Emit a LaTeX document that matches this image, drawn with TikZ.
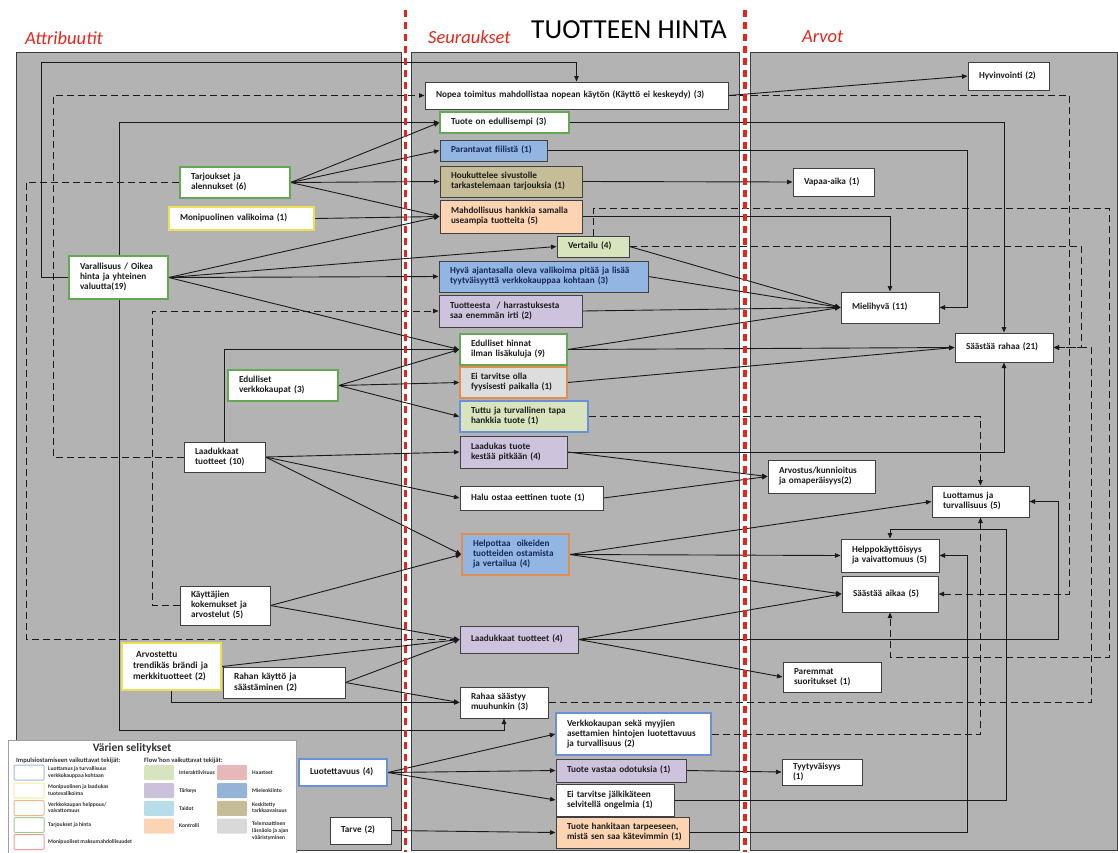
\documentclass[tikz,border=0pt]{standalone}
\usepackage{fontspec}
\setmainfont{Carlito}
\usetikzlibrary{arrows.meta,shadows}
\pgfdeclarelayer{panels}
\pgfdeclarelayer{links}
\pgfdeclarelayer{top}
\pgfsetlayers{panels,links,main,top}

\definecolor{panelgray}{HTML}{B3B3B3}
\definecolor{paneledge}{HTML}{3C3C3C}
\definecolor{boxedge}{HTML}{404040}
\definecolor{linec}{HTML}{1A1A1A}
\definecolor{redline}{HTML}{E6261D}
\definecolor{greenedge}{HTML}{62A855}
\definecolor{blueedge}{HTML}{6A90DA}
\definecolor{yellowedge}{HTML}{ECDE55}
\definecolor{orangeedge}{HTML}{E08E4E}
\definecolor{bluefill}{HTML}{92B5E2}
\definecolor{navytext}{HTML}{16275C}
\definecolor{khakifill}{HTML}{C5BD97}
\definecolor{peachfill}{HTML}{FCD4B2}
\definecolor{greenfill}{HTML}{D7E4BD}
\definecolor{lavfill}{HTML}{CDC3DC}
\definecolor{grayfill}{HTML}{DDDDDD}
\definecolor{boxtext}{HTML}{1C1C1C}
\definecolor{legedge}{HTML}{A0A0A0}
\definecolor{legtext}{HTML}{333333}
\definecolor{lgblue}{HTML}{9DB7E5}
\definecolor{lgyellow}{HTML}{F4EC98}
\definecolor{lgorange}{HTML}{F2B58C}
\definecolor{lggreen}{HTML}{9FCB8E}
\definecolor{lgred}{HTML}{EE9C9C}
\definecolor{lfgreen}{HTML}{D7E4BD}
\definecolor{lflav}{HTML}{CCC1DA}
\definecolor{lfcyan}{HTML}{B7DEE8}
\definecolor{lfpeach}{HTML}{FBD4B4}
\definecolor{lfpink}{HTML}{E6B9B8}
\definecolor{lfblue}{HTML}{95B3D7}
\definecolor{lfkhaki}{HTML}{C4BD97}
\definecolor{lfgray}{HTML}{D9D9D9}

\newcommand\boxfont{\bfseries\fontsize{9.2}{10}\selectfont}
\newcommand\bigboxfont{\bfseries\fontsize{9.4}{11}\selectfont}
\newcommand\txtlines[1]{\begin{tabular}{@{}l@{}}#1\end{tabular}}

\tikzset{
  panel/.style={fill=panelgray, draw=paneledge, line width=0.9pt},
  bx/.style={draw=boxedge, line width=1pt, fill=white, inner xsep=11pt, inner ysep=0pt,
    align=left, font=\boxfont, text=boxtext,
    drop shadow={shadow xshift=1.3pt, shadow yshift=-1.3pt, opacity=0.3}},
  gbx/.style={bx, draw=greenedge, line width=1.4pt},
  bbx/.style={bx, draw=blueedge, line width=1.4pt},
  ybx/.style={bx, draw=yellowedge, line width=1.4pt},
  obx/.style={bx, draw=orangeedge, line width=1.4pt},
  fblue/.style={fill=bluefill, text=navytext},
  fkhaki/.style={fill=khakifill},
  fpeach/.style={fill=peachfill},
  fgreen/.style={fill=greenfill},
  flav/.style={fill=lavfill},
  fgray/.style={fill=grayfill},
  conn/.style={draw=linec, line width=0.9pt, ->},
  dconn/.style={conn, dash pattern=on 7pt off 4pt},
  reddash/.style={draw=redline, line width=3.6pt, dash pattern=on 7pt off 5pt},
  coltitle/.style={anchor=base west, inner sep=0pt, text=redline, font=\itshape\fontsize{18.5}{20}\selectfont},
  swatch/.style={minimum width=30pt, minimum height=15pt, inner sep=0pt, line width=1pt, rounded corners=1pt},
  leglab/.style={anchor=west, inner sep=0pt, align=left, text=legtext, font=\bfseries\fontsize{5.6}{6.6}\selectfont},
}

\begin{document}
\begin{tikzpicture}[x=1pt, y=-1pt, >={Triangle[length=5.5pt,width=4.5pt]}]
\useasboundingbox (0,0) rectangle (1118,852);

% three column panels
\begin{pgfonlayer}{panels}
\fill[white] (0,0) rectangle (1118,852);
\draw[panel] (16,52) rectangle (401,850);
\draw[panel] (411,52) rectangle (739,850);
\draw[panel] (750,52) rectangle (1117.5,850);
\end{pgfonlayer}

% headings
\node[coltitle] (attr) at (25,44) {Attribuutit};
\node[coltitle] (seur) at (428,43) {Seuraukset};
\node[coltitle] (arvot) at (802,42) {Arvot};
\node[anchor=base west, inner sep=0pt, text=black, font=\fontsize{27.5}{30}\selectfont] (hinta) at (531,38.5) {TUOTTEEN HINTA};

% attributes (left column)
\node[gbx, text width=88pt, minimum height=31pt] (tarj) at (235,182.5) {\txtlines{Tarjoukset ja\\alennukset (6)}};
\node[ybx, text width=123pt, minimum height=23pt] (moni) at (241.5,218.5) {\txtlines{Monipuolinen valikoima (1)}};
\node[gbx, text width=77pt, minimum height=43pt] (varal) at (118.5,277.5) {\txtlines{Varallisuus / Oikea\\hinta ja yhteinen\\valuutta(19)}};
\node[gbx, text width=88pt, minimum height=31pt] (edverk) at (283,385.5) {\txtlines{Edulliset\\verkkokaupat (3)}};
\node[bx, text width=59pt, minimum height=30pt] (laad10) at (224.5,457) {\txtlines{Laadukkaat\\tuotteet (10)}};
\node[bx, text width=68pt, minimum height=39pt] (kayt) at (225,605.5) {\txtlines{Käyttäjien\\kokemukset ja\\arvostelut (5)}};
\node[ybx, font=\bigboxfont, text width=77pt, minimum height=47pt] (arvost) at (171.5,666.5) {\txtlines{~Arvostettu\\trendikäs brändi ja\\merkkituotteet (2)}};
\node[bx, font=\bigboxfont, text width=100pt, minimum height=31pt] (rahank) at (284,682.5) {\txtlines{Rahan käyttö ja\\säästäminen (2)}};
\node[bbx, text width=66pt, minimum height=27pt] (luot) at (343,772.5) {\txtlines{Luotettavuus (4)}};
\node[bx, text width=39pt, minimum height=27pt] (tarve) at (360.5,830.5) {\txtlines{Tarve (2)}};

% consequences (middle column)
\node[bx, text width=281pt, minimum height=27pt] (nopea) at (576.5,95.5) {\txtlines{Nopea toimitus mahdollistaa nopean käytön (Käyttö ei keskeydy) (3)}};
\node[gbx, text width=107pt, minimum height=21pt] (edull) at (504.5,122.5) {\txtlines{Tuote on edullisempi (3)}};
\node[bx, fblue, text width=85pt, minimum height=21pt] (paran) at (493.5,150.5) {\txtlines{Parantavat fiilistä (1)}};
\node[bx, fkhaki, text width=120pt, minimum height=31pt] (houk) at (511,181.5) {\txtlines{Houkuttelee sivustolle\\tarkastelemaan tarjouksia (1)}};
\node[bx, fpeach, text width=120pt, minimum height=33pt] (mahd) at (511,216.5) {\txtlines{Mahdollisuus hankkia samalla\\useampia tuotteita (5)}};
\node[bx, fgreen, text width=50pt, minimum height=21pt] (vert) at (593,246.5) {\txtlines{Vertailu (4)}};
\node[bx, fblue, text width=187pt, minimum height=31pt] (hyva) at (543.5,276.5) {\txtlines{Hyvä ajantasalla oleva valikoima pitää ja lisää\\tyytväisyyttä verkkokauppaa kohtaan (3)}};
\node[bx, flav, text width=121pt, minimum height=32pt] (tuott) at (510.5,311) {\txtlines{Tuotteesta~ / harrastuksesta\\saa enemmän irti (2)}};
\node[gbx, text width=85pt, minimum height=31pt] (edhin) at (513.5,349.5) {\txtlines{Edulliset hinnat\\ilman lisäkuluja (9)}};
\node[obx, fgray, text width=85pt, minimum height=31pt] (eitarv) at (513.5,382.5) {\txtlines{Ei tarvitse olla\\fyysisesti paikalla (1)}};
\node[bbx, fgreen, text width=106pt, minimum height=31pt] (tuttu) at (524,416.5) {\txtlines{Tuttu ja turvallinen tapa\\hankkia tuote (1)}};
\node[bx, flav, text width=85pt, minimum height=32pt] (kestaa) at (513.5,452) {\txtlines{Laadukas tuote\\kestää pitkään (4)}};
\node[bx, text width=121pt, minimum height=24pt] (halu) at (531.5,498) {\txtlines{Halu ostaa eettinen tuote (1)}};
\node[obx, fblue, text width=85pt, minimum height=41pt] (helpo) at (515.5,554.5) {\txtlines{Helpottaa~ oikeiden\\tuotteiden ostamista\\ja vertailua (4)}};
\node[bx, flav, text width=96pt, minimum height=27pt] (laad4) at (519,639.5) {\txtlines{Laadukkaat tuotteet (4)}};
\node[bx, text width=66pt, minimum height=31pt] (rahaa) at (504,702.5) {\txtlines{Rahaa säästyy\\muuhunkin (3)}};
\node[bbx, text width=133pt, minimum height=42pt] (verkko) at (633.5,734) {\txtlines{Verkkokaupan sekä myyjien\\asettamien hintojen luotettavuus\\ja turvallisuus (2)}};
\node[bx, flav, text width=108pt, minimum height=23pt] (vastaa) at (621,770.5) {\txtlines{Tuote vastaa odotuksia (1)}};
\node[bx, text width=96pt, minimum height=32pt] (jalki) at (615,800) {\txtlines{Ei tarvitse jälkikäteen\\selvitellä ongelmia (1)}};
\node[bx, fpeach, text width=111pt, minimum height=31pt] (hankit) at (622.5,832.5) {\txtlines{Tuote hankitaan tarpeeseen,\\mistä sen saa kätevimmin (1)}};

% values (right column)
\node[bx, text width=59pt, minimum height=28pt] (hyvin) at (1008.5,76) {\txtlines{Hyvinvointi (2)}};
\node[bx, text width=59pt, minimum height=28pt] (vapaa) at (833.5,182) {\txtlines{Vapaa-aika (1)}};
\node[bx, text width=76pt, minimum height=31pt] (mieli) at (890,307.5) {\txtlines{Mielihyvä (11)}};
\node[bx, text width=76pt, minimum height=29pt] (saarah) at (1004,347.5) {\txtlines{Säästää rahaa (21)}};
\node[bx, text width=85pt, minimum height=33pt] (arvkun) at (821.5,476.5) {\txtlines{Arvostus/kunnioitus\\ja omaperäisyys(2)}};
\node[bx, text width=75pt, minimum height=31pt] (luottam) at (980.5,501.5) {\txtlines{Luottamus ja\\turvallisuus (5)}};
\node[bx, text width=76pt, minimum height=33pt] (helppo) at (890,555.5) {\txtlines{Helppokäyttöisyys\\ja vaivattomuus (5)}};
\node[bx, text width=74pt, minimum height=36pt] (saaika) at (890,594) {\txtlines{Säästää aikaa (5)}};
\node[bx, text width=76pt, minimum height=30pt] (parem) at (832,677) {\txtlines{Paremmat\\suoritukset (1)}};
\node[bx, text width=58pt, minimum height=26pt] (tyyty) at (822,772) {\txtlines{Tyytyväisyys\\(1)}};

\begin{pgfonlayer}{links}
% routed links in the attribute column
\draw[conn] (varal.west) -| (41,62) -| (nopea.north);
\draw[dconn] (laad10.west) -| (53,95.5) -- (nopea.west);
\draw[dconn] (tarj.west) -| (26,639.5) -- (laad4.west);
\draw[conn, <->] (edull.west) -| (119,730) -| (rahaa.south);
\draw[conn] (laad10.north) |- (edhin.west);
\draw[dconn] (kayt.west) -| (152,311) -- (tuott.west);
\draw[conn] (arvost.south) |- (rahaa.west);

% attributes to consequences
\draw[conn] (tarj.east) -- (edull.west);
\draw[conn] (tarj.east) -- (paran.west);
\draw[conn] (tarj.east) -- (houk.west);
\draw[conn] (tarj.east) -- (mahd.west);
\draw[conn] (moni.east) -- (mahd.west);
\draw[conn] (varal.east) -- (mahd.west);
\draw[conn] (varal.east) -- (vert.west);
\draw[conn] (varal.east) -- (hyva.west);
\draw[conn] (varal.east) -- (edhin.west);
\draw[conn] (edverk.east) -- (edhin.west);
\draw[conn] (edverk.east) -- (eitarv.west);
\draw[conn] (edverk.east) -- (tuttu.west);
\draw[conn] (laad10.east) -- (kestaa.west);
\draw[conn] (laad10.east) -- (halu.west);
\draw[conn] (laad10.east) -- (helpo.west);
\draw[conn] (kayt.east) -- (helpo.west);
\draw[conn] (kayt.east) -- (laad4.west);
\draw[conn] (arvost.east) -- (laad4.west);
\draw[conn] (rahank.east) -- (laad4.west);
\draw[conn] (rahank.east) -- (rahaa.west);
\draw[conn] (luot.east) -- (verkko.west);
\draw[conn] (luot.east) -- (vastaa.west);
\draw[conn] (luot.east) -- (jalki.west);
\draw[conn] (tarve.east) -- (hankit.west);

% consequences to values
\draw[conn] (nopea.east) -- (hyvin.west);
\draw[dconn] (nopea.east) -| (1069,594) -- (saaika.east);
\draw[conn] (edull.east) -| (saarah.north);
\draw[conn] (paran.east) -| (967,307.5) -- (mieli.east);
\draw[conn] (houk.east) -- (vapaa.west);
\draw[dconn] (vert.north) |- (1109,208) -- (1109,657) -| (saaika.south);
\draw[dconn] (vert.east) -| (1081,347.5) -- (saarah.east);
\draw[dconn] (rahaa.east) -| (1091,347.5) -- (saarah.east);
\draw[conn] (mahd.east) -| (mieli.north);
\draw[conn] (vert.east) -- (mieli.west);
\draw[conn] (hyva.east) -- (mieli.west);
\draw[conn] (tuott.east) -- (mieli.west);
\draw[conn] (edhin.east) -- (mieli.west);
\draw[conn] (edhin.east) -- (saarah.west);
\draw[conn] (eitarv.east) -- (saarah.west);
\draw[dconn] (tuttu.east) -| (luottam.north);
\draw[conn] (kestaa.east) -| (saarah.south);
\draw[conn] (kestaa.east) -- (arvkun.west);
\draw[conn] (halu.east) -- (arvkun.west);
\draw[conn] (helpo.east) -- (luottam.west);
\draw[conn] (helpo.east) -- (helppo.west);
\draw[conn] (helpo.east) -- (saaika.west);
\draw[conn] (laad4.east) -- (saaika.west);
\draw[conn] (laad4.east) -| (1058,501.5) -- (luottam.east);
\draw[conn] (laad4.east) -- (parem.west);
\draw[dconn] (verkko.east) -| (luottam.south);
\draw[conn] (vastaa.east) -- (tyyty.west);
\draw[conn] (jalki.east) -| (1006,529) -| (helppo.north);
\draw[conn] (hankit.east) -| (967,555.5) -- (helppo.east);
\end{pgfonlayer}

\begin{pgfonlayer}{top}
% column separators
\draw[reddash] (405.5,10) -- (405.5,852);
\draw[reddash] (745,10) -- (745,852);

% colour key
\node[draw=legedge, fill=white, line width=0.8pt, minimum width=288pt, minimum height=116pt, anchor=north west, inner sep=0pt] (legend) at (8,740) {};
\node[anchor=base, inner sep=0pt, text=legtext, font=\bfseries\fontsize{11.5}{13}\selectfont] (legtitle) at (132,751.5) {Värien selitykset};
\node[anchor=base west, inner sep=0pt, text=legtext, font=\bfseries\fontsize{6.6}{7.5}\selectfont] (leghead1) at (16,762) {Impulsiostamiseen vaikuttavat tekijät:};
\node[anchor=base west, inner sep=0pt, text=legtext, font=\bfseries\fontsize{6.6}{7.5}\selectfont] (leghead2) at (144,762) {Flow'hon vaikuttavat tekijät:};

\node[swatch, draw=lgblue, fill=white] (swa) at (29,772.5) {};
\node[swatch, draw=lgyellow, fill=white] (swb) at (29,790.5) {};
\node[swatch, draw=lgorange, fill=white] (swc) at (29,808) {};
\node[swatch, draw=lggreen, fill=white] (swd) at (29,825) {};
\node[swatch, draw=lgred, fill=white] (swe) at (29,842) {};
\node[leglab] (laba) at (48,772.5) {\txtlines{Luottamus ja turvallisuus\\verkkokauppaa kohtaan}};
\node[leglab] (labb) at (48,790.5) {\txtlines{Monipuolinen ja laadukas\\tuotevalikoima}};
\node[leglab] (labc) at (48,808) {\txtlines{Verkkokaupan helppous/\\vaivattomuus}};
\node[leglab] (labd) at (48,825) {Tarjoukset ja hinta};
\node[leglab] (labe) at (48,842) {Monipuoliset maksumahdollisuudet};

\node[swatch, draw=none, fill=lfgreen] (swf) at (159,772.5) {};
\node[swatch, draw=none, fill=lflav] (swg) at (159,790.5) {};
\node[swatch, draw=none, fill=lfcyan] (swh) at (159,808.3) {};
\node[swatch, draw=none, fill=lfpeach] (swi) at (159,826) {};
\node[leglab] (labf) at (179,772.5) {Interaktiivisuus};
\node[leglab] (labg) at (179,790.5) {Tärkeys};
\node[leglab] (labh) at (179,808.3) {Taidot};
\node[leglab] (labi) at (179,826) {Kontrolli};

\node[swatch, draw=none, fill=lfpink] (swj) at (232,772.5) {};
\node[swatch, draw=none, fill=lfblue] (swk) at (232,790.5) {};
\node[swatch, draw=none, fill=lfkhaki] (swl) at (232,808.3) {};
\node[swatch, draw=none, fill=lfgray] (swm) at (232,826) {};
\node[leglab] (labj) at (252,772.5) {Haasteet};
\node[leglab] (labk) at (252,790.5) {Mielenkiinto};
\node[leglab] (labl) at (252,808.3) {\txtlines{Keskitetty\\tarkkaavaisuus}};
\node[leglab, anchor=north west] (labm) at (252,821) {\txtlines{Telemaattinen\\läsnäolo ja ajan\\vääristyminen}};
\end{pgfonlayer}
\end{tikzpicture}
\end{document}
